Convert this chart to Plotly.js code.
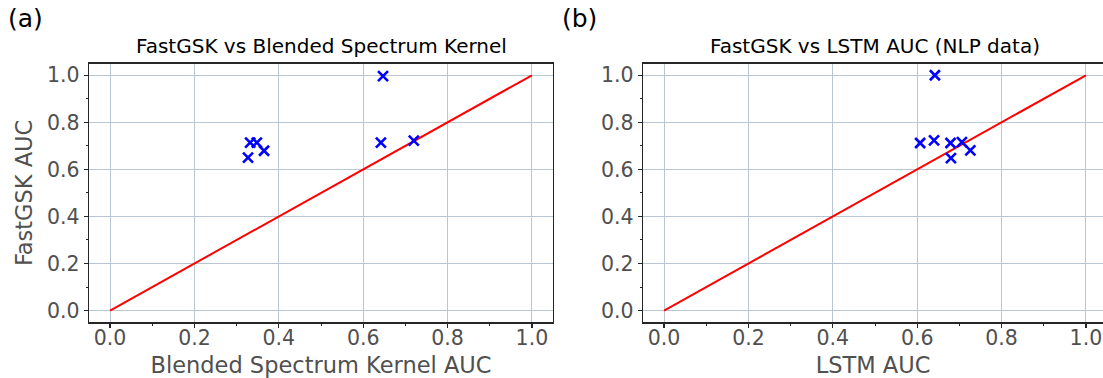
<!DOCTYPE html>
<html>
<head>
<meta charset="utf-8">
<script src="https://cdn.plot.ly/plotly-3.0.1.min.js"></script>
<style>html,body{margin:0;padding:0;background:#fff}#chart{width:1103px;height:378px}</style>
</head>
<body>
<div id="chart"></div>
<script>
// Data
const bskAUC = [0.327, 0.332, 0.348, 0.365, 0.642, 0.647, 0.720];
const fastgskA = [0.650, 0.714, 0.714, 0.679, 0.714, 0.996, 0.722];
const lstmAUC = [0.607, 0.640, 0.679, 0.706, 0.680, 0.726, 0.642];
const fastgskB = [0.712, 0.723, 0.712, 0.716, 0.648, 0.681, 1.000];
const diagX = [0, 1];
const diagY = [0, 1];
const tickVals = [0, 0.2, 0.4, 0.6, 0.8, 1.0];
const tickText = ['0.0', '0.2', '0.4', '0.6', '0.8', '1.0'];

const W = 1103, H = 378;
const FONT = 'DejaVu Sans, sans-serif';
const GRID = '#b9c6d3';
const FRAME = '#262626';
const TXT = '#505050';

function axis(extra) {
  return Object.assign({
    tickvals: tickVals, ticktext: tickText,
    ticks: 'outside', ticklen: 4, tickwidth: 1.2, tickcolor: FRAME,
    showgrid: true, gridcolor: GRID, gridwidth: 1,
    zeroline: false, showline: true, linecolor: FRAME, linewidth: 1.3,
    tickfont: {family: FONT, size: 20.5, color: TXT},
    minor: {dtick: 0.1, tick0: 0, ticks: 'outside', ticklen: 2, tickwidth: 1, tickcolor: FRAME, showgrid: false},
    fixedrange: true
  }, extra);
}

const markerStyle = {symbol: 'x-thin', size: 10, color: 'blue', line: {color: 'blue', width: 2.6}};
const lineStyle = {color: 'red', width: 2};

const traces = [
  {x: diagX, y: diagY, mode: 'lines', line: lineStyle, xaxis: 'x', yaxis: 'y', hoverinfo: 'skip'},
  {x: bskAUC, y: fastgskA, mode: 'markers', marker: markerStyle, xaxis: 'x', yaxis: 'y'},
  {x: diagX, y: diagY, mode: 'lines', line: lineStyle, xaxis: 'x2', yaxis: 'y2', hoverinfo: 'skip'},
  {x: lstmAUC, y: fastgskB, mode: 'markers', marker: markerStyle, xaxis: 'x2', yaxis: 'y2'}
];

const yDom = [(H - 322.3) / H, (H - 63.5) / H];

const layout = {
  width: W, height: H,
  margin: {l: 0, r: 0, t: 0, b: 0},
  paper_bgcolor: '#fff', plot_bgcolor: '#fff',
  showlegend: false,
  xaxis: axis({domain: [89 / W, 553 / W], range: [-0.05, 1.05], mirror: true, anchor: 'y', ticklabelstandoff: -7,
    title: {text: 'Blended Spectrum Kernel AUC', font: {family: FONT, size: 22.5, color: TXT}, standoff: 11}}),
  yaxis: axis({domain: yDom, range: [-0.05, 1.05], mirror: true, anchor: 'x',
    title: {text: 'FastGSK AUC', font: {family: FONT, size: 22.5, color: TXT}, standoff: 8}}),
  xaxis2: axis({domain: [643 / W, 1], range: [-0.05, 1.0405], mirror: true, anchor: 'y2', ticklabelstandoff: -7,
    title: {text: 'LSTM AUC', font: {family: FONT, size: 22.5, color: TXT}, standoff: 11}}),
  yaxis2: axis({domain: yDom, range: [-0.05, 1.05], mirror: false, anchor: 'x2'}),
  annotations: [
    {text: 'FastGSK vs Blended Spectrum Kernel', xref: 'paper', yref: 'paper', x: 321 / W, y: (H - 46) / H,
      xanchor: 'center', yanchor: 'middle', showarrow: false, font: {family: FONT, size: 20, color: '#000'}},
    {text: 'FastGSK vs LSTM AUC (NLP data)', xref: 'paper', yref: 'paper', x: 875 / W, y: (H - 46) / H,
      xanchor: 'center', yanchor: 'middle', showarrow: false, font: {family: FONT, size: 20, color: '#000'}},
    {text: '(a)', xref: 'paper', yref: 'paper', x: 6 / W, y: (H - 19) / H,
      xanchor: 'left', yanchor: 'middle', showarrow: false, font: {family: FONT, size: 25, color: '#000'}},
    {text: '(b)', xref: 'paper', yref: 'paper', x: 560 / W, y: (H - 19) / H,
      xanchor: 'left', yanchor: 'middle', showarrow: false, font: {family: FONT, size: 25, color: '#000'}}
  ]
};

Plotly.newPlot('chart', traces, layout, {staticPlot: true, displayModeBar: false});
</script>
</body>
</html>
